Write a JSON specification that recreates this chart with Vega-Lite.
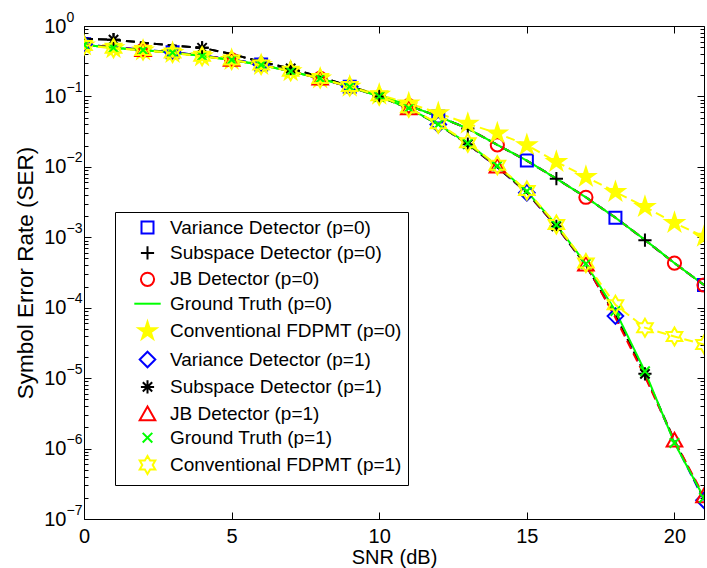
{
"$schema":"https://vega.github.io/schema/vega-lite/v6.json",
"width":620,"height":493,
"autosize":{"type":"none"},
"padding":{"left":84,"top":26,"right":3,"bottom":49},
"background":"white",
"config":{"view":{"stroke":"#000000","strokeWidth":1},"font":"Liberation Sans",
 "axis":{"grid":false,"domain":false,"labelFont":"Liberation Sans","titleFont":"Liberation Sans","labelColor":"#000000","titleColor":"#000000","tickColor":"#000000","labelFlush":false,"labelOverlap":false,"titleFontWeight":"normal"}},
"datasets":{"d":[
{"s":"Variance Detector (p=0)","g":0,"x":0,"y":0.55,"m":1},{"s":"Variance Detector (p=0)","g":0,"x":1,"y":0.5,"m":0},{"s":"Variance Detector (p=0)","g":0,"x":2,"y":0.46,"m":0},{"s":"Variance Detector (p=0)","g":0,"x":3,"y":0.425,"m":1},{"s":"Variance Detector (p=0)","g":0,"x":4,"y":0.38,"m":0},{"s":"Variance Detector (p=0)","g":0,"x":5,"y":0.335,"m":0},{"s":"Variance Detector (p=0)","g":0,"x":6,"y":0.285,"m":1},{"s":"Variance Detector (p=0)","g":0,"x":7,"y":0.23,"m":0},{"s":"Variance Detector (p=0)","g":0,"x":8,"y":0.18,"m":0},{"s":"Variance Detector (p=0)","g":0,"x":9,"y":0.137,"m":1},{"s":"Variance Detector (p=0)","g":0,"x":10,"y":0.103,"m":0},{"s":"Variance Detector (p=0)","g":0,"x":11,"y":0.074,"m":0},{"s":"Variance Detector (p=0)","g":0,"x":12,"y":0.052,"m":1},{"s":"Variance Detector (p=0)","g":0,"x":13,"y":0.035,"m":0},{"s":"Variance Detector (p=0)","g":0,"x":14,"y":0.0205,"m":0},{"s":"Variance Detector (p=0)","g":0,"x":15,"y":0.0123,"m":1},{"s":"Variance Detector (p=0)","g":0,"x":16,"y":0.0068,"m":0},{"s":"Variance Detector (p=0)","g":0,"x":17,"y":0.0037,"m":0},{"s":"Variance Detector (p=0)","g":0,"x":18,"y":0.0019,"m":1},{"s":"Variance Detector (p=0)","g":0,"x":19,"y":0.00092,"m":0},{"s":"Variance Detector (p=0)","g":0,"x":20,"y":0.00043,"m":0},{"s":"Variance Detector (p=0)","g":0,"x":21,"y":0.00021,"m":1},
{"s":"Subspace Detector (p=0)","g":0,"x":0,"y":0.66,"m":0},{"s":"Subspace Detector (p=0)","g":0,"x":1,"y":0.64,"m":1},{"s":"Subspace Detector (p=0)","g":0,"x":2,"y":0.58,"m":0},{"s":"Subspace Detector (p=0)","g":0,"x":3,"y":0.53,"m":0},{"s":"Subspace Detector (p=0)","g":0,"x":4,"y":0.49,"m":1},{"s":"Subspace Detector (p=0)","g":0,"x":5,"y":0.4,"m":0},{"s":"Subspace Detector (p=0)","g":0,"x":6,"y":0.31,"m":0},{"s":"Subspace Detector (p=0)","g":0,"x":7,"y":0.25,"m":1},{"s":"Subspace Detector (p=0)","g":0,"x":8,"y":0.19,"m":0},{"s":"Subspace Detector (p=0)","g":0,"x":9,"y":0.14,"m":0},{"s":"Subspace Detector (p=0)","g":0,"x":10,"y":0.104,"m":1},{"s":"Subspace Detector (p=0)","g":0,"x":11,"y":0.074,"m":0},{"s":"Subspace Detector (p=0)","g":0,"x":12,"y":0.052,"m":0},{"s":"Subspace Detector (p=0)","g":0,"x":13,"y":0.035,"m":1},{"s":"Subspace Detector (p=0)","g":0,"x":14,"y":0.0205,"m":0},{"s":"Subspace Detector (p=0)","g":0,"x":15,"y":0.0122,"m":0},{"s":"Subspace Detector (p=0)","g":0,"x":16,"y":0.0068,"m":1},{"s":"Subspace Detector (p=0)","g":0,"x":17,"y":0.0037,"m":0},{"s":"Subspace Detector (p=0)","g":0,"x":18,"y":0.0019,"m":0},{"s":"Subspace Detector (p=0)","g":0,"x":19,"y":0.00091,"m":1},{"s":"Subspace Detector (p=0)","g":0,"x":20,"y":0.00043,"m":0},{"s":"Subspace Detector (p=0)","g":0,"x":21,"y":0.00021,"m":0},
{"s":"JB Detector (p=0)","g":0,"x":0,"y":0.545,"m":0},{"s":"JB Detector (p=0)","g":0,"x":1,"y":0.495,"m":0},{"s":"JB Detector (p=0)","g":0,"x":2,"y":0.455,"m":1},{"s":"JB Detector (p=0)","g":0,"x":3,"y":0.42,"m":0},{"s":"JB Detector (p=0)","g":0,"x":4,"y":0.378,"m":0},{"s":"JB Detector (p=0)","g":0,"x":5,"y":0.332,"m":1},{"s":"JB Detector (p=0)","g":0,"x":6,"y":0.282,"m":0},{"s":"JB Detector (p=0)","g":0,"x":7,"y":0.229,"m":0},{"s":"JB Detector (p=0)","g":0,"x":8,"y":0.18,"m":1},{"s":"JB Detector (p=0)","g":0,"x":9,"y":0.137,"m":0},{"s":"JB Detector (p=0)","g":0,"x":10,"y":0.103,"m":0},{"s":"JB Detector (p=0)","g":0,"x":11,"y":0.074,"m":1},{"s":"JB Detector (p=0)","g":0,"x":12,"y":0.052,"m":0},{"s":"JB Detector (p=0)","g":0,"x":13,"y":0.035,"m":0},{"s":"JB Detector (p=0)","g":0,"x":14,"y":0.0205,"m":1},{"s":"JB Detector (p=0)","g":0,"x":15,"y":0.0123,"m":0},{"s":"JB Detector (p=0)","g":0,"x":16,"y":0.0068,"m":0},{"s":"JB Detector (p=0)","g":0,"x":17,"y":0.0037,"m":1},{"s":"JB Detector (p=0)","g":0,"x":18,"y":0.0019,"m":0},{"s":"JB Detector (p=0)","g":0,"x":19,"y":0.00092,"m":0},{"s":"JB Detector (p=0)","g":0,"x":20,"y":0.00043,"m":1},{"s":"JB Detector (p=0)","g":0,"x":21,"y":0.00021,"m":1},
{"s":"Ground Truth (p=0)","g":0,"x":0,"y":0.54,"m":0},{"s":"Ground Truth (p=0)","g":0,"x":1,"y":0.49,"m":0},{"s":"Ground Truth (p=0)","g":0,"x":2,"y":0.455,"m":0},{"s":"Ground Truth (p=0)","g":0,"x":3,"y":0.42,"m":0},{"s":"Ground Truth (p=0)","g":0,"x":4,"y":0.375,"m":0},{"s":"Ground Truth (p=0)","g":0,"x":5,"y":0.33,"m":0},{"s":"Ground Truth (p=0)","g":0,"x":6,"y":0.28,"m":0},{"s":"Ground Truth (p=0)","g":0,"x":7,"y":0.228,"m":0},{"s":"Ground Truth (p=0)","g":0,"x":8,"y":0.18,"m":0},{"s":"Ground Truth (p=0)","g":0,"x":9,"y":0.137,"m":0},{"s":"Ground Truth (p=0)","g":0,"x":10,"y":0.104,"m":0},{"s":"Ground Truth (p=0)","g":0,"x":11,"y":0.074,"m":0},{"s":"Ground Truth (p=0)","g":0,"x":12,"y":0.052,"m":0},{"s":"Ground Truth (p=0)","g":0,"x":13,"y":0.035,"m":0},{"s":"Ground Truth (p=0)","g":0,"x":14,"y":0.0205,"m":0},{"s":"Ground Truth (p=0)","g":0,"x":15,"y":0.0123,"m":0},{"s":"Ground Truth (p=0)","g":0,"x":16,"y":0.0068,"m":0},{"s":"Ground Truth (p=0)","g":0,"x":17,"y":0.0037,"m":0},{"s":"Ground Truth (p=0)","g":0,"x":18,"y":0.0019,"m":0},{"s":"Ground Truth (p=0)","g":0,"x":19,"y":0.00092,"m":0},{"s":"Ground Truth (p=0)","g":0,"x":20,"y":0.00043,"m":0},{"s":"Ground Truth (p=0)","g":0,"x":21,"y":0.00021,"m":0},
{"s":"Conventional FDPMT (p=0)","g":0,"x":0,"y":0.53,"m":1},{"s":"Conventional FDPMT (p=0)","g":0,"x":1,"y":0.485,"m":1},{"s":"Conventional FDPMT (p=0)","g":0,"x":2,"y":0.45,"m":1},{"s":"Conventional FDPMT (p=0)","g":0,"x":3,"y":0.415,"m":1},{"s":"Conventional FDPMT (p=0)","g":0,"x":4,"y":0.372,"m":1},{"s":"Conventional FDPMT (p=0)","g":0,"x":5,"y":0.33,"m":1},{"s":"Conventional FDPMT (p=0)","g":0,"x":6,"y":0.28,"m":1},{"s":"Conventional FDPMT (p=0)","g":0,"x":7,"y":0.228,"m":1},{"s":"Conventional FDPMT (p=0)","g":0,"x":8,"y":0.18,"m":1},{"s":"Conventional FDPMT (p=0)","g":0,"x":9,"y":0.138,"m":1},{"s":"Conventional FDPMT (p=0)","g":0,"x":10,"y":0.106,"m":1},{"s":"Conventional FDPMT (p=0)","g":0,"x":11,"y":0.08,"m":1},{"s":"Conventional FDPMT (p=0)","g":0,"x":12,"y":0.058,"m":1},{"s":"Conventional FDPMT (p=0)","g":0,"x":13,"y":0.041,"m":1},{"s":"Conventional FDPMT (p=0)","g":0,"x":14,"y":0.03,"m":1},{"s":"Conventional FDPMT (p=0)","g":0,"x":15,"y":0.0204,"m":1},{"s":"Conventional FDPMT (p=0)","g":0,"x":16,"y":0.0118,"m":1},{"s":"Conventional FDPMT (p=0)","g":0,"x":17,"y":0.0072,"m":1},{"s":"Conventional FDPMT (p=0)","g":0,"x":18,"y":0.0044,"m":1},{"s":"Conventional FDPMT (p=0)","g":0,"x":19,"y":0.0027,"m":1},{"s":"Conventional FDPMT (p=0)","g":0,"x":20,"y":0.0016,"m":1},{"s":"Conventional FDPMT (p=0)","g":0,"x":21,"y":0.00102,"m":1},
{"s":"Variance Detector (p=1)","g":1,"x":0,"y":0.55,"m":1},{"s":"Variance Detector (p=1)","g":1,"x":1,"y":0.5,"m":0},{"s":"Variance Detector (p=1)","g":1,"x":2,"y":0.46,"m":0},{"s":"Variance Detector (p=1)","g":1,"x":3,"y":0.425,"m":1},{"s":"Variance Detector (p=1)","g":1,"x":4,"y":0.38,"m":0},{"s":"Variance Detector (p=1)","g":1,"x":5,"y":0.335,"m":0},{"s":"Variance Detector (p=1)","g":1,"x":6,"y":0.285,"m":1},{"s":"Variance Detector (p=1)","g":1,"x":7,"y":0.23,"m":0},{"s":"Variance Detector (p=1)","g":1,"x":8,"y":0.18,"m":0},{"s":"Variance Detector (p=1)","g":1,"x":9,"y":0.137,"m":1},{"s":"Variance Detector (p=1)","g":1,"x":10,"y":0.1,"m":0},{"s":"Variance Detector (p=1)","g":1,"x":11,"y":0.068,"m":0},{"s":"Variance Detector (p=1)","g":1,"x":12,"y":0.04,"m":1},{"s":"Variance Detector (p=1)","g":1,"x":13,"y":0.021,"m":0},{"s":"Variance Detector (p=1)","g":1,"x":14,"y":0.0099,"m":0},{"s":"Variance Detector (p=1)","g":1,"x":15,"y":0.0043,"m":1},{"s":"Variance Detector (p=1)","g":1,"x":16,"y":0.00143,"m":0},{"s":"Variance Detector (p=1)","g":1,"x":17,"y":0.0004,"m":0},{"s":"Variance Detector (p=1)","g":1,"x":18,"y":0.000076,"m":1},{"s":"Variance Detector (p=1)","g":1,"x":19,"y":0.0000112,"m":0},{"s":"Variance Detector (p=1)","g":1,"x":20,"y":0.00000125,"m":0},{"s":"Variance Detector (p=1)","g":1,"x":21,"y":0.000000185,"m":1},
{"s":"Subspace Detector (p=1)","g":1,"x":0,"y":0.66,"m":0},{"s":"Subspace Detector (p=1)","g":1,"x":1,"y":0.64,"m":1},{"s":"Subspace Detector (p=1)","g":1,"x":2,"y":0.58,"m":0},{"s":"Subspace Detector (p=1)","g":1,"x":3,"y":0.53,"m":0},{"s":"Subspace Detector (p=1)","g":1,"x":4,"y":0.49,"m":1},{"s":"Subspace Detector (p=1)","g":1,"x":5,"y":0.4,"m":0},{"s":"Subspace Detector (p=1)","g":1,"x":6,"y":0.31,"m":0},{"s":"Subspace Detector (p=1)","g":1,"x":7,"y":0.25,"m":1},{"s":"Subspace Detector (p=1)","g":1,"x":8,"y":0.19,"m":0},{"s":"Subspace Detector (p=1)","g":1,"x":9,"y":0.14,"m":0},{"s":"Subspace Detector (p=1)","g":1,"x":10,"y":0.1,"m":1},{"s":"Subspace Detector (p=1)","g":1,"x":11,"y":0.068,"m":0},{"s":"Subspace Detector (p=1)","g":1,"x":12,"y":0.04,"m":0},{"s":"Subspace Detector (p=1)","g":1,"x":13,"y":0.021,"m":1},{"s":"Subspace Detector (p=1)","g":1,"x":14,"y":0.0099,"m":0},{"s":"Subspace Detector (p=1)","g":1,"x":15,"y":0.0043,"m":0},{"s":"Subspace Detector (p=1)","g":1,"x":16,"y":0.00143,"m":1},{"s":"Subspace Detector (p=1)","g":1,"x":17,"y":0.0004,"m":0},{"s":"Subspace Detector (p=1)","g":1,"x":18,"y":0.000078,"m":0},{"s":"Subspace Detector (p=1)","g":1,"x":19,"y":0.0000115,"m":1},{"s":"Subspace Detector (p=1)","g":1,"x":20,"y":0.0000013,"m":0},{"s":"Subspace Detector (p=1)","g":1,"x":21,"y":0.000000195,"m":0},
{"s":"JB Detector (p=1)","g":1,"x":0,"y":0.545,"m":0},{"s":"JB Detector (p=1)","g":1,"x":1,"y":0.495,"m":0},{"s":"JB Detector (p=1)","g":1,"x":2,"y":0.455,"m":1},{"s":"JB Detector (p=1)","g":1,"x":3,"y":0.42,"m":0},{"s":"JB Detector (p=1)","g":1,"x":4,"y":0.378,"m":0},{"s":"JB Detector (p=1)","g":1,"x":5,"y":0.332,"m":1},{"s":"JB Detector (p=1)","g":1,"x":6,"y":0.282,"m":0},{"s":"JB Detector (p=1)","g":1,"x":7,"y":0.229,"m":0},{"s":"JB Detector (p=1)","g":1,"x":8,"y":0.18,"m":1},{"s":"JB Detector (p=1)","g":1,"x":9,"y":0.137,"m":0},{"s":"JB Detector (p=1)","g":1,"x":10,"y":0.1,"m":0},{"s":"JB Detector (p=1)","g":1,"x":11,"y":0.068,"m":1},{"s":"JB Detector (p=1)","g":1,"x":12,"y":0.04,"m":0},{"s":"JB Detector (p=1)","g":1,"x":13,"y":0.0212,"m":0},{"s":"JB Detector (p=1)","g":1,"x":14,"y":0.0101,"m":1},{"s":"JB Detector (p=1)","g":1,"x":15,"y":0.0044,"m":0},{"s":"JB Detector (p=1)","g":1,"x":16,"y":0.00145,"m":0},{"s":"JB Detector (p=1)","g":1,"x":17,"y":0.00041,"m":1},{"s":"JB Detector (p=1)","g":1,"x":18,"y":0.000072,"m":0},{"s":"JB Detector (p=1)","g":1,"x":19,"y":0.0000105,"m":0},{"s":"JB Detector (p=1)","g":1,"x":20,"y":0.0000013,"m":1},{"s":"JB Detector (p=1)","g":1,"x":21,"y":0.00000021,"m":1},
{"s":"Ground Truth (p=1)","g":1,"x":0,"y":0.54,"m":1},{"s":"Ground Truth (p=1)","g":1,"x":1,"y":0.49,"m":1},{"s":"Ground Truth (p=1)","g":1,"x":2,"y":0.455,"m":1},{"s":"Ground Truth (p=1)","g":1,"x":3,"y":0.42,"m":1},{"s":"Ground Truth (p=1)","g":1,"x":4,"y":0.375,"m":1},{"s":"Ground Truth (p=1)","g":1,"x":5,"y":0.33,"m":1},{"s":"Ground Truth (p=1)","g":1,"x":6,"y":0.28,"m":1},{"s":"Ground Truth (p=1)","g":1,"x":7,"y":0.228,"m":1},{"s":"Ground Truth (p=1)","g":1,"x":8,"y":0.18,"m":1},{"s":"Ground Truth (p=1)","g":1,"x":9,"y":0.137,"m":1},{"s":"Ground Truth (p=1)","g":1,"x":10,"y":0.1,"m":1},{"s":"Ground Truth (p=1)","g":1,"x":11,"y":0.068,"m":1},{"s":"Ground Truth (p=1)","g":1,"x":12,"y":0.04,"m":1},{"s":"Ground Truth (p=1)","g":1,"x":13,"y":0.0215,"m":1},{"s":"Ground Truth (p=1)","g":1,"x":14,"y":0.0103,"m":1},{"s":"Ground Truth (p=1)","g":1,"x":15,"y":0.0045,"m":1},{"s":"Ground Truth (p=1)","g":1,"x":16,"y":0.0015,"m":1},{"s":"Ground Truth (p=1)","g":1,"x":17,"y":0.00042,"m":1},{"s":"Ground Truth (p=1)","g":1,"x":18,"y":0.00009,"m":1},{"s":"Ground Truth (p=1)","g":1,"x":19,"y":0.0000125,"m":1},{"s":"Ground Truth (p=1)","g":1,"x":20,"y":0.0000012,"m":1},{"s":"Ground Truth (p=1)","g":1,"x":21,"y":0.0000002,"m":1},
{"s":"Conventional FDPMT (p=1)","g":1,"x":0,"y":0.53,"m":1},{"s":"Conventional FDPMT (p=1)","g":1,"x":1,"y":0.485,"m":1},{"s":"Conventional FDPMT (p=1)","g":1,"x":2,"y":0.45,"m":1},{"s":"Conventional FDPMT (p=1)","g":1,"x":3,"y":0.415,"m":1},{"s":"Conventional FDPMT (p=1)","g":1,"x":4,"y":0.372,"m":1},{"s":"Conventional FDPMT (p=1)","g":1,"x":5,"y":0.33,"m":1},{"s":"Conventional FDPMT (p=1)","g":1,"x":6,"y":0.28,"m":1},{"s":"Conventional FDPMT (p=1)","g":1,"x":7,"y":0.228,"m":1},{"s":"Conventional FDPMT (p=1)","g":1,"x":8,"y":0.18,"m":1},{"s":"Conventional FDPMT (p=1)","g":1,"x":9,"y":0.138,"m":1},{"s":"Conventional FDPMT (p=1)","g":1,"x":10,"y":0.102,"m":1},{"s":"Conventional FDPMT (p=1)","g":1,"x":11,"y":0.069,"m":1},{"s":"Conventional FDPMT (p=1)","g":1,"x":12,"y":0.041,"m":1},{"s":"Conventional FDPMT (p=1)","g":1,"x":13,"y":0.022,"m":1},{"s":"Conventional FDPMT (p=1)","g":1,"x":14,"y":0.0105,"m":1},{"s":"Conventional FDPMT (p=1)","g":1,"x":15,"y":0.0046,"m":1},{"s":"Conventional FDPMT (p=1)","g":1,"x":16,"y":0.00152,"m":1},{"s":"Conventional FDPMT (p=1)","g":1,"x":17,"y":0.00043,"m":1},{"s":"Conventional FDPMT (p=1)","g":1,"x":18,"y":0.00011,"m":1},{"s":"Conventional FDPMT (p=1)","g":1,"x":19,"y":0.000052,"m":1},{"s":"Conventional FDPMT (p=1)","g":1,"x":20,"y":0.000039,"m":1},{"s":"Conventional FDPMT (p=1)","g":1,"x":21,"y":0.00003,"m":1}
]},
"data":{"name":"d"},
"resolve":{"axis":{"x":"independent","y":"independent"}},
"layer":[
{"transform":[{"filter":"datum.g == 0"}],
 "mark":{"type":"line","strokeWidth":2,"clip":true},
 "encoding":{
  "x":{"field":"x","type":"quantitative","scale":{"domain":[0,21],"nice":false,"zero":false},
       "axis":{"orient":"bottom","values":[0,5,10,15,20],"tickSize":-7,"labelPadding":14,"labelFontSize":20,"title":"SNR (dB)","titleFontSize":20,"titlePadding":1}},
  "y":{"field":"y","type":"quantitative","scale":{"type":"log","domain":[1e-7,1],"nice":false},
       "axis":{"orient":"left","values":[1e-7,1e-6,1e-5,1e-4,1e-3,1e-2,1e-1,1],"labelExpr":"'10'","tickSize":-7,"labelPadding":25,"labelFontSize":20,"labelBaseline":"middle","title":"Symbol Error Rate (SER)","titleFontSize":22.5,"titlePadding":6}},
  "color":{"field":"s","type":"nominal",
   "scale":{"domain":["Variance Detector (p=0)","Subspace Detector (p=0)","JB Detector (p=0)","Ground Truth (p=0)","Conventional FDPMT (p=0)","Variance Detector (p=1)","Subspace Detector (p=1)","JB Detector (p=1)","Ground Truth (p=1)","Conventional FDPMT (p=1)"],
            "range":["#0000ff","#000000","#ff0000","#00ff00","#ffff00","#0000ff","#000000","#ff0000","#00ff00","#ffff00"]},
   "legend":{"orient":"none","legendX":31,"legendY":186,"title":null,"padding":6,"strokeColor":"#000000","fillColor":"#ffffff","symbolSize":144,"symbolStrokeWidth":2,"symbolOffset":17,"labelOffset":13,"labelFont":"Liberation Sans","labelFontSize":19,"labelColor":"#000000","rowPadding":3.4,"labelLimit":400}},
  "strokeDash":{"field":"s","type":"nominal","legend":null,
   "scale":{"domain":["Conventional FDPMT (p=1)","Ground Truth (p=1)","JB Detector (p=1)","Subspace Detector (p=1)","Variance Detector (p=1)","Conventional FDPMT (p=0)","Ground Truth (p=0)","JB Detector (p=0)","Subspace Detector (p=0)","Variance Detector (p=0)"],
            "range":[[9,5],[1,0],[9,5],[9,5],[9,5],[9,5],[1,0],[9,5],[9,5],[9,5]]}}
 }},
{"transform":[{"filter":"datum.g == 0 && datum.m == 1"}],
 "mark":{"type":"point","strokeWidth":2,"opacity":1,"clip":true},
 "encoding":{
  "x":{"field":"x","type":"quantitative","scale":{"domain":[0,21],"nice":false,"zero":false},
       "axis":{"orient":"top","values":[0,5,10,15,20],"tickSize":-7,"labels":false,"title":null}},
  "y":{"field":"y","type":"quantitative","scale":{"type":"log","domain":[1e-7,1],"nice":false},
       "axis":{"orient":"right","values":[1e-7,1e-6,1e-5,1e-4,1e-3,1e-2,1e-1,1],"tickSize":-7,"labels":false,"title":null}},
  "size":{"value":144},
  "stroke":{"field":"s","type":"nominal",
   "scale":{"domain":["Variance Detector (p=0)","Subspace Detector (p=0)","JB Detector (p=0)","Ground Truth (p=0)","Conventional FDPMT (p=0)","Variance Detector (p=1)","Subspace Detector (p=1)","JB Detector (p=1)","Ground Truth (p=1)","Conventional FDPMT (p=1)"],
            "range":["#0000ff","#000000","#ff0000","#00ff00","#ffff00","#0000ff","#000000","#ff0000","#00ff00","#ffff00"]},
   "legend":{"orient":"none","legendX":31,"legendY":186,"title":null,"padding":6,"strokeColor":"#000000","fillColor":"#ffffff","symbolSize":144,"symbolStrokeWidth":2,"symbolOffset":17,"labelOffset":13,"labelFont":"Liberation Sans","labelFontSize":19,"labelColor":"#000000","rowPadding":3.4,"labelLimit":400}},
  "fill":{"field":"s","type":"nominal",
   "scale":{"domain":["Variance Detector (p=0)","Subspace Detector (p=0)","JB Detector (p=0)","Ground Truth (p=0)","Conventional FDPMT (p=0)","Variance Detector (p=1)","Subspace Detector (p=1)","JB Detector (p=1)","Ground Truth (p=1)","Conventional FDPMT (p=1)"],
            "range":["transparent","transparent","transparent","transparent","#ffff00","transparent","transparent","transparent","transparent","transparent"]},
   "legend":{"orient":"none","legendX":31,"legendY":186,"title":null,"padding":6,"strokeColor":"#000000","fillColor":"#ffffff","symbolSize":144,"symbolStrokeWidth":2,"symbolOffset":17,"labelOffset":13,"labelFont":"Liberation Sans","labelFontSize":19,"labelColor":"#000000","rowPadding":3.4,"labelLimit":400}},
  "shape":{"field":"s","type":"nominal",
   "scale":{"domain":["Variance Detector (p=0)","Subspace Detector (p=0)","JB Detector (p=0)","Ground Truth (p=0)","Conventional FDPMT (p=0)","Variance Detector (p=1)","Subspace Detector (p=1)","JB Detector (p=1)","Ground Truth (p=1)","Conventional FDPMT (p=1)"],
            "range":["M-1,-1L1,-1L1,1L-1,1Z","M-1.1,0L1.1,0M0,-1.1L0,1.1","M-1.1,0A1.1,1.1,0,1,1,1.1,0A1.1,1.1,0,1,1,-1.1,0Z","M-2.2,0L2.2,0","M0,-1.55L0.348,-0.479L1.474,-0.479L0.563,0.183L0.911,1.254L0,0.592L-0.911,1.254L-0.563,0.183L-1.474,-0.479L-0.348,-0.479Z","M0,-1.3L1.3,0L0,1.3L-1.3,0Z","M-1.1,0L1.1,0M0,-1.1L0,1.1M-0.78,-0.78L0.78,0.78M-0.78,0.78L0.78,-0.78","M0,-1.3L1.3,1L-1.3,1Z","M-0.8,-0.8L0.8,0.8M-0.8,0.8L0.8,-0.8","M0,-1.5L0.433,-0.75L1.299,-0.75L0.866,0L1.299,0.75L0.433,0.75L0,1.5L-0.433,0.75L-1.299,0.75L-0.866,0L-1.299,-0.75L-0.433,-0.75Z"]},
   "legend":{"orient":"none","legendX":31,"legendY":186,"title":null,"padding":6,"strokeColor":"#000000","fillColor":"#ffffff","symbolSize":144,"symbolStrokeWidth":2,"symbolOffset":17,"labelOffset":13,"labelFont":"Liberation Sans","labelFontSize":19,"labelColor":"#000000","rowPadding":3.4,"labelLimit":400}}
 }},
{"transform":[{"filter":"datum.g == 1"}],
 "mark":{"type":"line","strokeWidth":2,"clip":true},
 "encoding":{
  "x":{"field":"x","type":"quantitative","scale":{"domain":[0,21],"nice":false,"zero":false},"axis":null},
  "y":{"field":"y","type":"quantitative","scale":{"type":"log","domain":[1e-7,1],"nice":false},
       "axis":{"orient":"left","values":[2e-7,3e-7,4e-7,5e-7,6e-7,7e-7,8e-7,9e-7,2e-6,3e-6,4e-6,5e-6,6e-6,7e-6,8e-6,9e-6,2e-5,3e-5,4e-5,5e-5,6e-5,7e-5,8e-5,9e-5,2e-4,3e-4,4e-4,5e-4,6e-4,7e-4,8e-4,9e-4,2e-3,3e-3,4e-3,5e-3,6e-3,7e-3,8e-3,9e-3,0.02,0.03,0.04,0.05,0.06,0.07,0.08,0.09,0.2,0.3,0.4,0.5,0.6,0.7,0.8,0.9],"tickSize":-4,"labels":false,"title":null}},
  "color":{"field":"s","type":"nominal"},
  "strokeDash":{"field":"s","type":"nominal","legend":null}
 }},
{"transform":[{"filter":"datum.g == 1 && datum.m == 1 && datum.s != 'Conventional FDPMT (p=1)'"}],
 "mark":{"type":"point","strokeWidth":2,"opacity":1,"clip":true},
 "encoding":{
  "x":{"field":"x","type":"quantitative","scale":{"domain":[0,21],"nice":false,"zero":false},"axis":null},
  "y":{"field":"y","type":"quantitative","scale":{"type":"log","domain":[1e-7,1],"nice":false},
       "axis":{"orient":"right","values":[2e-7,3e-7,4e-7,5e-7,6e-7,7e-7,8e-7,9e-7,2e-6,3e-6,4e-6,5e-6,6e-6,7e-6,8e-6,9e-6,2e-5,3e-5,4e-5,5e-5,6e-5,7e-5,8e-5,9e-5,2e-4,3e-4,4e-4,5e-4,6e-4,7e-4,8e-4,9e-4,2e-3,3e-3,4e-3,5e-3,6e-3,7e-3,8e-3,9e-3,0.02,0.03,0.04,0.05,0.06,0.07,0.08,0.09,0.2,0.3,0.4,0.5,0.6,0.7,0.8,0.9],"tickSize":-4,"labels":false,"title":null}},
  "size":{"value":144},
  "stroke":{"field":"s","type":"nominal"},
  "fill":{"field":"s","type":"nominal"},
  "shape":{"field":"s","type":"nominal"}
 }},
{"transform":[{"filter":"datum.s == 'Conventional FDPMT (p=1)'"}],
 "mark":{"type":"point","strokeWidth":2,"opacity":1,"clip":true},
 "encoding":{
  "x":{"field":"x","type":"quantitative","scale":{"domain":[0,21],"nice":false,"zero":false},"axis":null},
  "y":{"field":"y","type":"quantitative","scale":{"type":"log","domain":[1e-7,1],"nice":false},
       "axis":{"orient":"left","values":[1e-7,1e-6,1e-5,1e-4,1e-3,1e-2,1e-1,1],"labelExpr":"['0','−1','−2','−3','−4','−5','−6','−7'][round(-log(datum.value)/LN10)]","ticks":false,"labelAlign":"left","labelPadding":18,"labelFontSize":14,"labelOffset":-9,"labelBaseline":"middle","title":null}},
  "size":{"value":144},
  "stroke":{"field":"s","type":"nominal"},
  "fill":{"field":"s","type":"nominal"},
  "shape":{"field":"s","type":"nominal"}
 }}
]
}
